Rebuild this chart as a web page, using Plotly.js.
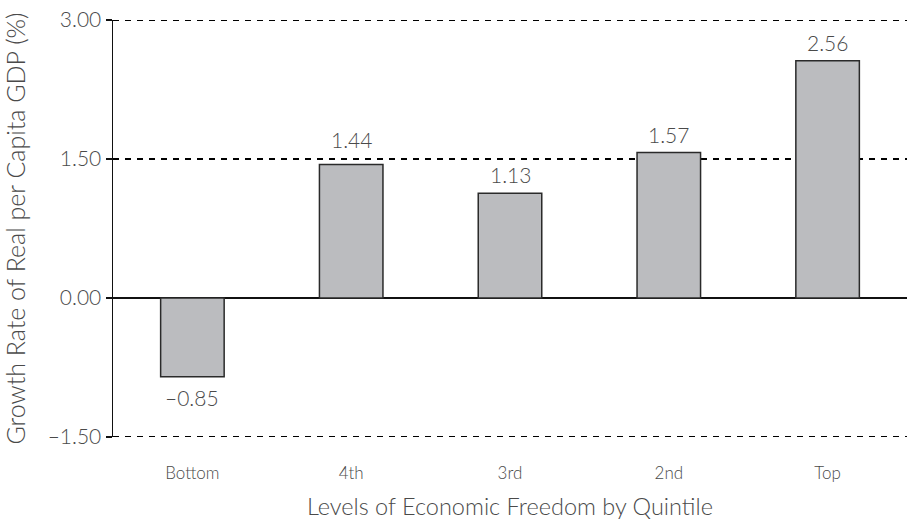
<!DOCTYPE html>
<html>
<head>
<meta charset="utf-8">
<script src="https://cdn.plot.ly/plotly-3.0.1.min.js"></script>
<style>html,body{margin:0;padding:0;background:#fff;}#chart{width:911px;height:531px;}</style>
</head>
<body>
<div id="chart"></div>
<script>
const categories = ["Bottom", "4th", "3rd", "2nd", "Top"];
const growth = [-0.85, 1.44, 1.13, 1.57, 2.56];
const yTicks = [-1.5, 0, 1.5, 3.0];
const yTickLabels = ["\u20131.50", "0.00", "1.50", "3.00"];
const barLabels = growth.map(v => (v < 0 ? "\u2013" : "") + Math.abs(v).toFixed(2));
const xTitle = "Levels of Economic Freedom by Quintile";
const yTitle = "Growth Rate of Real per Capita GDP (%)";

const FONT = "Lato, 'Open Sans', sans-serif";
const GRAY = "#4a4a4a";

const trace = {
  type: "bar",
  x: categories,
  y: growth,
  width: 0.4,
  marker: { color: "#bbbcbf", line: { color: "#2a2a2a", width: 1.5 } },
  hoverinfo: "skip"
};

// value labels: above positive bars, below negative; lift above a gridline if it would collide
const annotations = growth.map((v, i) => {
  let y = v, shift = v < 0 ? -6 : 4;
  if (v > 0) {
    yTicks.forEach(t => { if (t > v && t - v < 0.12) { y = t; shift = 5; } });
  }
  return {
    x: categories[i], y: y, xref: "x", yref: "y",
    text: barLabels[i], showarrow: false,
    yanchor: v < 0 ? "top" : "bottom", yshift: shift,
    font: { family: FONT, size: 21, color: GRAY, weight: 300 }
  };
});

// x-axis title as a paper annotation for exact vertical placement
annotations.push({
  x: 0.5, y: 0, xref: "paper", yref: "paper", xanchor: "center", yanchor: "middle",
  yshift: -69, text: xTitle, showarrow: false,
  font: { family: FONT, size: 23.5, color: GRAY, weight: 300 }
});

// dashed gridlines at the non-zero ticks (drawn as shapes so the edge ticks show too)
const gridShapes = yTicks.filter(t => t !== 0).map(t => ({
  type: "line", xref: "paper", x0: 0, x1: 1, yref: "y", y0: t, y1: t,
  line: { color: "#000000", width: 2, dash: "6px,6px" }, layer: "below"
}));

const layout = {
  width: 911,
  height: 531,
  margin: { l: 113, r: 4, t: 20, b: 94 },
  paper_bgcolor: "#ffffff",
  plot_bgcolor: "#ffffff",
  showlegend: false,
  font: { family: FONT, color: GRAY, weight: 300 },
  annotations: annotations,
  shapes: gridShapes,
  xaxis: {
    type: "category",
    showline: false,
    ticks: "",
    showgrid: false,
    ticklabelstandoff: 24,
    tickfont: { family: FONT, size: 17, color: GRAY, weight: 300 }
  },
  yaxis: {
    range: [-1.5, 3.0],
    tickvals: yTicks,
    ticktext: yTickLabels,
    showline: true,
    linecolor: "#111111",
    linewidth: 1.5,
    ticks: "outside",
    ticklen: 6,
    tickcolor: "#111111",
    tickwidth: 1.5,
    showgrid: false,
    automargin: true,
    zeroline: true,
    zerolinecolor: "#111111",
    zerolinewidth: 1.5,
    tickfont: { family: FONT, size: 21, color: GRAY, weight: 300 },
    title: { text: yTitle, font: { family: FONT, size: 25, color: GRAY, weight: 300 }, standoff: 16 }
  }
};

Plotly.newPlot("chart", [trace], layout, { displayModeBar: false, staticPlot: true });
</script>
</body>
</html>
